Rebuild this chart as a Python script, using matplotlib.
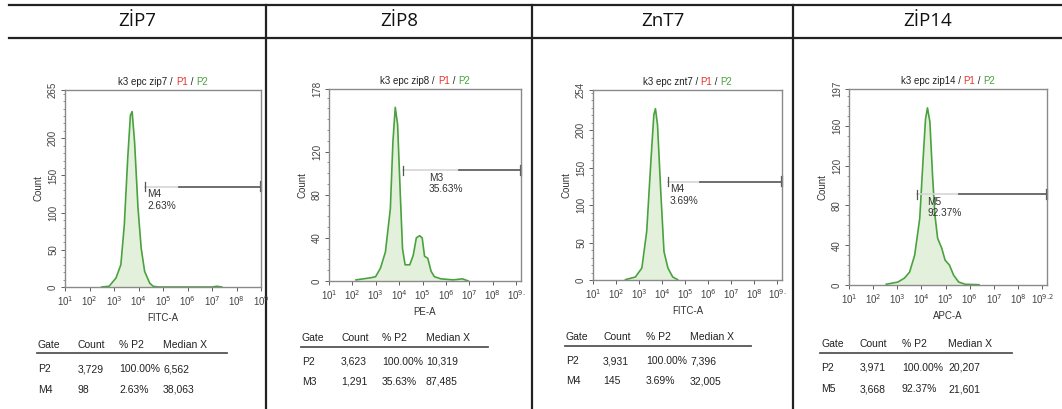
import numpy as np
import matplotlib
matplotlib.use("Agg")
from matplotlib import pyplot as plt

plt.rcParams['font.family'] = ['Liberation Sans', 'DejaVu Sans']

# Column headers of the table
headers = ['ZİP7', 'ZİP8', 'ZnT7', 'ZİP14']
samples = ['zip7', 'zip8', 'znt7', 'zip14']
xlabels = ['FITC-A', 'PE-A', 'FITC-A', 'APC-A']

# Histogram curves: log10 of intensity and count
zip7_logx = [2.5, 2.8, 3.08, 3.28, 3.42, 3.56, 3.67, 3.74, 3.84, 3.98, 4.11, 4.25, 4.46, 4.6, 4.8, 7.0, 7.2, 7.4]
zip7_count = [0, 1, 12, 30, 83, 173, 231, 236, 195, 106, 52, 21, 5, 1, 0, 0, 1, 0]

zip8_logx = [2.15, 2.78, 2.99, 3.2, 3.41, 3.62, 3.73, 3.83, 3.93, 4.04, 4.14, 4.25, 4.45, 4.6, 4.73,
             4.87, 4.98, 5.08, 5.22, 5.36, 5.5, 5.78, 6.3, 6.7, 6.95]
zip8_count = [1, 3, 4, 12, 27, 67, 129, 161, 145, 83, 30, 15, 15, 24, 40,
              42, 40, 23, 21, 9, 4, 2, 1, 2, 0]

znt7_logx = [2.41, 2.84, 3.12, 3.33, 3.52, 3.64, 3.71, 3.8, 3.94, 4.08, 4.25, 4.46, 4.67]
znt7_count = [0.5, 4, 16, 65, 163, 221, 229, 207, 118, 38, 16, 4, 0.5]

zip14_logx = [2.54, 3.03, 3.3, 3.51, 3.72, 3.93, 4.07, 4.17, 4.25, 4.35, 4.46, 4.56, 4.67,
              4.84, 4.98, 5.16, 5.33, 5.54, 5.82, 6.38]
zip14_count = [0.7, 3, 7, 13, 30, 67, 127, 167, 178, 164, 110, 70, 47,
               37, 25, 20, 10, 3, 0.7, 0.3]

curves_x = [zip7_logx, zip8_logx, znt7_logx, zip14_logx]
curves_y = [zip7_count, zip8_count, znt7_count, zip14_count]

# Axis ranges
y_max = [265, 178, 254, 197]
y_ticks = [[0, 50, 100, 150, 200, 265], [0, 40, 80, 120, 178],
           [0, 50, 100, 150, 200, 254], [0, 40, 80, 120, 160, 197]]
x_max = [9, 9.2, 9.2, 9.2]
x_end_label = ['9', '9.', '9.', '9.2']

# Marker gates
gate_names = ['M4', 'M3', 'M4', 'M5']
gate_pct = ['2.63%', '35.63%', '3.69%', '92.37%']
gate_start = [4.28, 4.17, 4.25, 3.82]
gate_level = [135, 102.5, 131.5, 91]
gate_text_x = [4.36, 5.27, 4.33, 4.25]

# Statistics tables
stat_cols = ['Gate', 'Count', '% P2', 'Median X']
stats = [
    [['P2', '3,729', '100.00%', '6,562'], ['M4', '98', '2.63%', '38,063']],
    [['P2', '3,623', '100.00%', '10,319'], ['M3', '1,291', '35.63%', '87,485']],
    [['P2', '3,931', '100.00%', '7,396'], ['M4', '145', '3.69%', '32,005']],
    [['P2', '3,971', '100.00%', '20,207'], ['M5', '3,668', '92.37%', '21,601']],
]

W, H = 1062, 409
fig = plt.figure(figsize=(W / 100, H / 100), dpi=100)
renderer = fig.canvas.get_renderer()

# background axes in pixel units for the table frame
bg = fig.add_axes([0, 0, 1, 1])
bg.set_xlim(0, W)
bg.set_ylim(H, 0)
bg.axis('off')

bg.plot([9, W], [5, 5], color='#222222', lw=1.6)
bg.plot([9, W], [38, 38], color='#222222', lw=1.6)
col_edges = [9, 266, 532, 793, W]
for xv in col_edges[1:-1]:
    bg.plot([xv, xv], [5, H], color='#222222', lw=1.6)
for i, h in enumerate(headers):
    bg.text((col_edges[i] + col_edges[i + 1]) / 2, 21, h, fontsize=13.5,
            family=['Open Sans', 'DejaVu Sans'], ha='center', va='center', color='#111111')

# panel axes positions in pixels: left, top, right, bottom
boxes = [(65, 90, 261, 287), (329, 89, 521, 281), (593, 90, 782, 280), (849, 89, 1047, 285)]
green = '#4aa23f'
fill = '#e3f1dc'
frame = '#8a8a8a'
fs = 7


def coloured_title(cx, y, parts):
    full = ''.join(p[0] for p in parts)
    tmp = bg.text(0, 0, full, fontsize=fs)
    width = tmp.get_window_extent(renderer).width
    tmp.remove()
    t = bg.text(cx - width / 2, y, parts[0][0], fontsize=fs, color=parts[0][1], ha='left', va='center')
    for s, c in parts[1:]:
        t = bg.annotate(s, xy=(1, 0.5), xycoords=t, fontsize=fs, color=c, ha='left', va='center')


for i in range(4):
    l, t, r, b = boxes[i]
    ax = fig.add_axes([l / W, 1 - b / H, (r - l) / W, (b - t) / H])
    xs = 10 ** np.array(curves_x[i])
    ys = np.array(curves_y[i])
    ax.fill_between(xs, ys, 0, color=fill, lw=0)
    ax.plot(xs, ys, color=green, lw=1.2)
    ax.set_xscale('log')
    ax.set_xlim(10 ** 1, 10 ** x_max[i])
    ax.set_ylim(0, y_max[i])

    ticks = [10 ** k for k in range(1, 10)]
    labels = ['10$^{%d}$' % k for k in range(1, 9)] + ['10$^{%s}$' % x_end_label[i]]
    ax.set_xticks(ticks)
    ax.set_xticklabels(labels)
    ax.set_yticks(y_ticks[i])
    ax.set_yticklabels([str(v) for v in y_ticks[i]], rotation=90, va='center')
    ax.set_yticks(np.arange(0, y_max[i], 10), minor=True)
    ax.tick_params(axis='both', labelsize=fs, colors='#444444', length=3, width=0.6, pad=2)
    ax.tick_params(which='minor', length=1.5, width=0.5, colors='#666666')
    for sp in ax.spines.values():
        sp.set_color(frame)
        sp.set_linewidth(1.0)
    ax.set_ylabel('Count', fontsize=fs, color='#333333', labelpad=3)
    ax.set_xlabel(xlabels[i], fontsize=fs, color='#333333', labelpad=4)

    coloured_title((l + r) / 2, t - 8, [('k3 epc %s / ' % samples[i], '#222222'), ('P1', '#e8322c'),
                                         (' / ', '#222222'), ('P2', green)])

    # gate marker
    x0 = 10 ** gate_start[i]
    x1 = 10 ** x_max[i]
    lab_end = 10 ** (gate_text_x[i] + 1.3)
    yv = gate_level[i]
    cap = y_max[i] * 0.022
    ax.plot([x0, lab_end], [yv, yv], color='#d5d5d5', lw=1.2, clip_on=False)
    ax.plot([lab_end, x1], [yv, yv], color='#555555', lw=1.2, clip_on=False)
    ax.plot([x0, x0], [yv - cap, yv + cap], color='#555555', lw=0.9, clip_on=False)
    ax.plot([x1, x1], [yv - cap, yv + cap], color='#555555', lw=1.6, clip_on=False)
    ax.text(10 ** gate_text_x[i], yv - y_max[i] * 0.012, gate_names[i] + '\n' + gate_pct[i], fontsize=7.3,
            va='top', ha='left', color='#333333', linespacing=1.2)

# statistics tables under each panel
tab_x = [(38, 78, 119, 163, 227), (302, 341, 382, 426, 488), (566, 603, 646, 690, 751), (821, 860, 902, 948, 1012)]
tab_y = [(345, 353, 369, 390), (338, 347, 362, 382), (337, 346, 361, 381), (344, 353, 368, 389)]
for i in range(4):
    xs = tab_x[i]
    hy, ly, r1, r2 = tab_y[i]
    for j, c in enumerate(stat_cols):
        bg.text(xs[j], hy, c, fontsize=7.5, ha='left', va='center', color='#222222')
    bg.plot([xs[0] - 1, xs[4]], [ly, ly], color='#555555', lw=1.3)
    for row, yy in zip(stats[i], [r1, r2]):
        for j, v in enumerate(row):
            bg.text(xs[j], yy, v, fontsize=7.5, ha='left', va='center', color='#222222')

fig.savefig('out.png', dpi=100)
